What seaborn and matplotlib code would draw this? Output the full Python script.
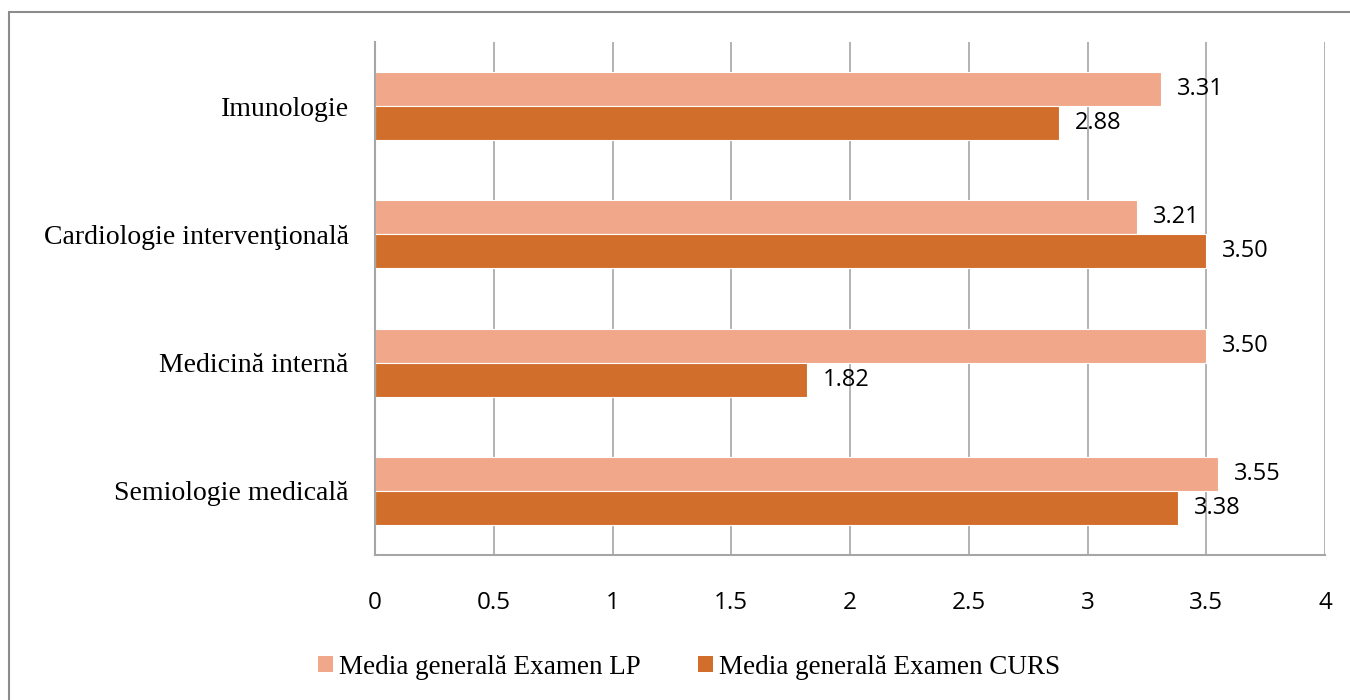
import matplotlib
matplotlib.use("Agg")
import matplotlib.pyplot as plt
import matplotlib.patches as mpatches
from matplotlib.ticker import FuncFormatter
import seaborn as sns
import pandas as pd

# data
categories = ["Imunologie", "Cardiologie intervenţională", "Medicină internă", "Semiologie medicală"]
series_names = ["Media generală Examen LP", "Media generală Examen CURS"]
lp_values = [3.31, 3.21, 3.50, 3.55]
curs_values = [2.88, 3.50, 1.82, 3.38]
x_ticks = [0, 0.5, 1, 1.5, 2, 2.5, 3, 3.5, 4]

colors = ["#F1A88A", "#D26E2C"]
grid_gray = "#A6A6A6"

rows = []
for cat, lp, cu in zip(categories, lp_values, curs_values):
    rows.append({"Disciplina": cat, "Serie": series_names[0], "Media": lp})
    rows.append({"Disciplina": cat, "Serie": series_names[1], "Media": cu})
df = pd.DataFrame(rows)

sns.set_style("white")
plt.rcParams["text.color"] = "black"
plt.rcParams["xtick.color"] = "black"
plt.rcParams["ytick.color"] = "black"
serif = ["Liberation Serif", "DejaVu Serif"]
sans = ["Open Sans", "DejaVu Sans"]

fig = plt.figure(figsize=(13.5, 7), dpi=100)
ax = fig.add_axes([375 / 1350, 1 - 555 / 700, 950 / 1350, 513 / 700])

sns.barplot(data=df, y="Disciplina", x="Media", hue="Serie", order=categories,
            hue_order=series_names, palette=colors, width=0.53, orient="h",
            edgecolor="white", linewidth=0.8, saturation=1, ax=ax, legend=False)

for cont in ax.containers:
    ax.bar_label(cont, fmt="%.2f", padding=11.5, fontsize=17, family=sans, color="black")

ax.set_xlim(0, 4)
ax.set_xticks(x_ticks)
ax.xaxis.set_major_formatter(FuncFormatter(lambda v, p: "%g" % v))
ax.grid(axis="x", color=grid_gray, linewidth=1.2)
ax.grid(axis="y", visible=False)
ax.set_axisbelow(True)
ax.set_xlabel("")
ax.set_ylabel("")

for side in ["top", "right"]:
    ax.spines[side].set_visible(False)
for side in ["left", "bottom"]:
    ax.spines[side].set_color(grid_gray)
    ax.spines[side].set_linewidth(1.5)

ax.tick_params(axis="x", length=0, pad=26, labelsize=17.5, labelcolor="black")
ax.tick_params(axis="y", length=0, pad=19, labelsize=20, labelcolor="black")
for lab in ax.get_xticklabels():
    lab.set_family(sans)
for lab in ax.get_yticklabels():
    lab.set_family(serif)

# legend at the bottom
handles = [mpatches.Patch(facecolor=c, edgecolor="none") for c in colors]
fig.legend(handles, series_names, loc="center", bbox_to_anchor=(689 / 1350, 1 - 667 / 700),
           ncol=2, frameon=False, handlelength=0.55, handleheight=0.55,
           handletextpad=0.22, columnspacing=2.1, prop={"family": serif, "size": 19.5})

# outer chart border
fig.patches.append(mpatches.Rectangle((9 / 1350, -0.2), 1.2, 1.2 - 12 / 700,
                                      transform=fig.transFigure, fill=False,
                                      edgecolor="#8C8C8C", linewidth=1.5))

fig.savefig("out.png", dpi=100)
